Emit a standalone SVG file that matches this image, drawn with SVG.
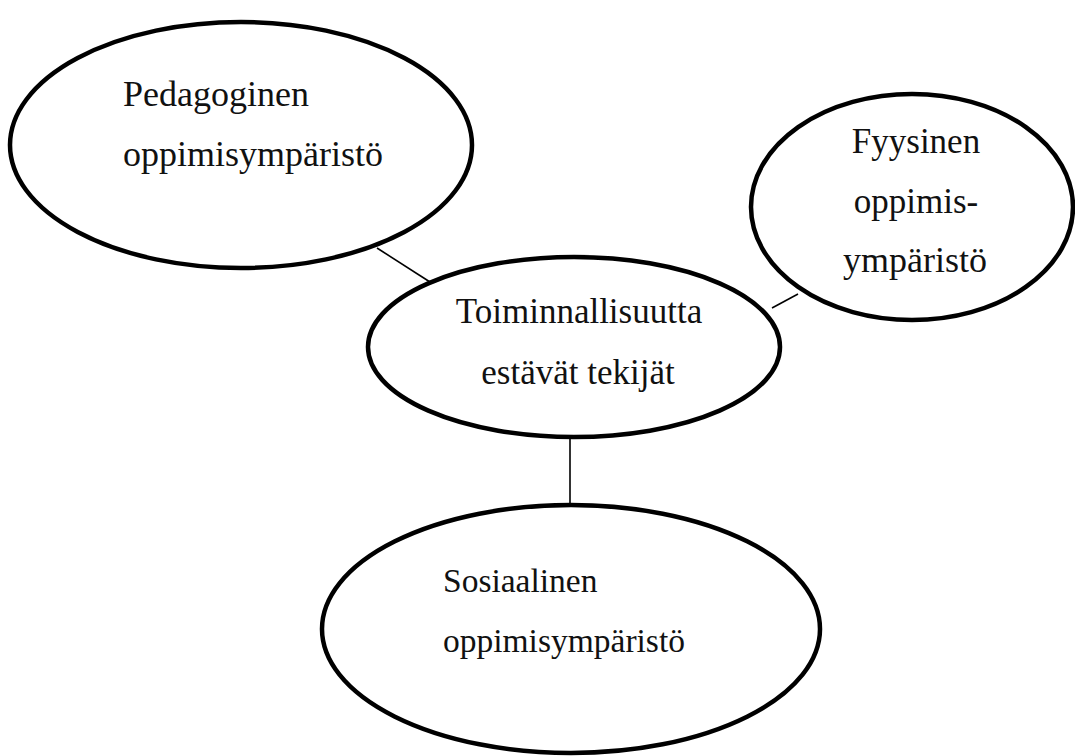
<svg xmlns="http://www.w3.org/2000/svg" width="1075" height="756" viewBox="0 0 1075 756">
<style>
.node{fill:#fff;stroke:#000;stroke-width:4.5}
.lbl{font-family:"Liberation Serif","Times New Roman",serif;fill:#111;font-size:35px}
.big{font-size:36px}
.sm{font-size:33.5px}
.conn line{stroke:#000;stroke-width:1.6}
</style>
<rect width="1075" height="756" fill="#fff"/>
<g id="connectors" class="conn">
<line x1="377" y1="248" x2="430" y2="282"/>
<line x1="798" y1="294" x2="772" y2="308"/>
<line x1="570" y1="430" x2="570" y2="505"/>
</g>
<g id="pedagoginen">
<ellipse class="node" cx="241" cy="145" rx="231" ry="123"/>
<text class="lbl big" x="123" y="106">Pedagoginen</text>
<text class="lbl big" x="123" y="166">oppimisympäristö</text>
</g>
<g id="fyysinen">
<ellipse class="node" cx="912" cy="207" rx="161" ry="113"/>
<text class="lbl" x="916" y="153" text-anchor="middle">Fyysinen</text>
<text class="lbl" x="916" y="213" text-anchor="middle">oppimis-</text>
<text class="lbl big" x="843" y="272">ympäristö</text>
</g>
<g id="toiminnallisuutta">
<ellipse class="node" cx="574" cy="347" rx="206" ry="90"/>
<text class="lbl" x="579" y="323" text-anchor="middle">Toiminnallisuutta</text>
<text class="lbl" x="578" y="384" text-anchor="middle">estävät tekijät</text>
</g>
<g id="sosiaalinen">
<ellipse class="node" cx="571" cy="629" rx="249" ry="124"/>
<text class="lbl sm" x="443" y="592">Sosiaalinen</text>
<text class="lbl sm" x="443" y="652">oppimisympäristö</text>
</g>
</svg>
